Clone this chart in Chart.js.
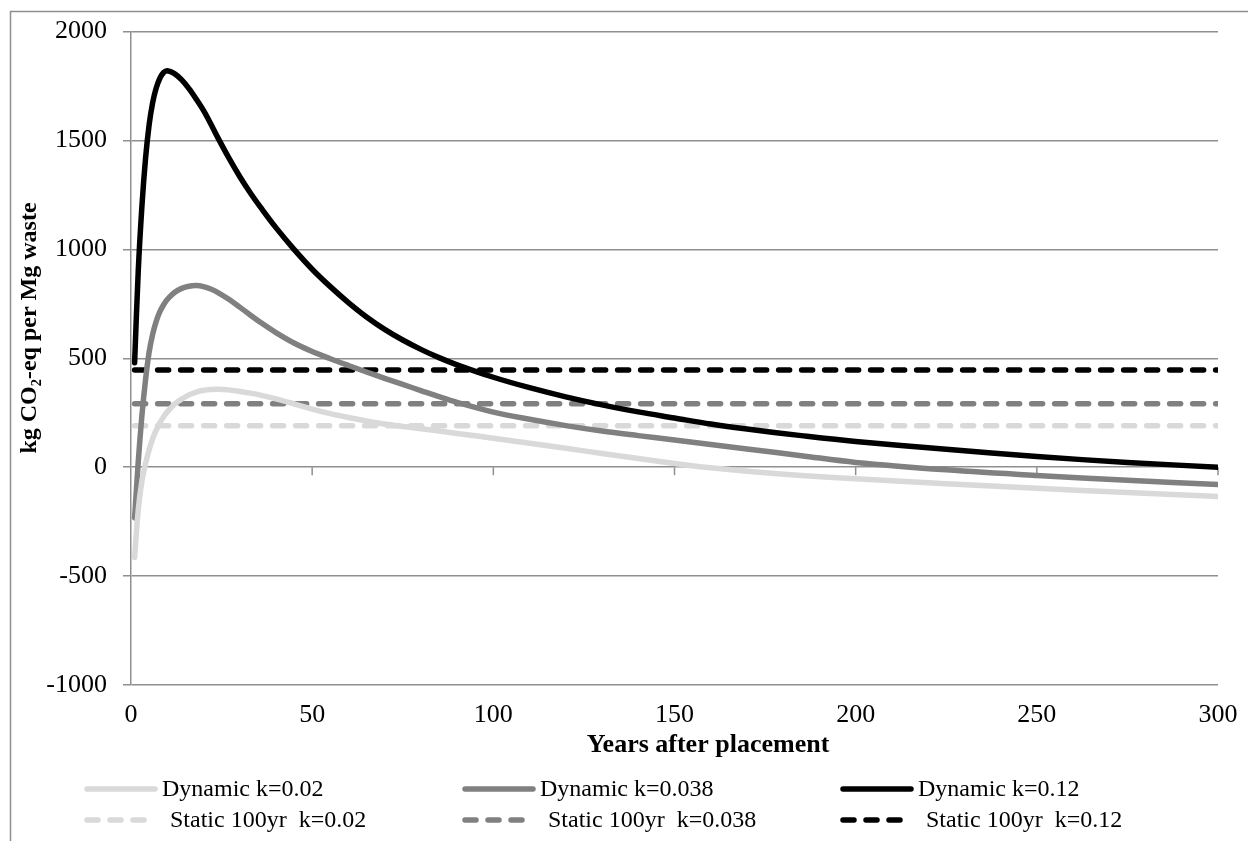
<!DOCTYPE html>
<html>
<head>
<meta charset="utf-8">
<script src="https://cdn.jsdelivr.net/npm/chart.js@4.4.1/dist/chart.umd.min.js"></script>
<style>
html, body { margin: 0; padding: 0; background: #fff; }
#wrap { width: 1248px; height: 841px; position: relative; }
</style>
</head>
<body>
<div id="wrap"><canvas id="chart"></canvas></div>
<script>
// values
const years = [1, 2, 3, 4, 5, 6, 7, 8, 9, 10, 12, 14, 16, 18, 20, 22, 24, 27, 30, 33, 36, 40, 45, 50, 55, 60, 65, 70, 75, 80, 85, 90, 100, 110, 120, 130, 140, 150, 160, 170, 185, 200, 225, 250, 275, 300];
const dynamicK002 = [-415, -195, -65, 15, 80, 132, 172, 205, 232, 254, 289, 313, 332, 345, 353, 357, 358, 355, 348, 340, 330, 314, 291, 267, 246, 228, 212, 198, 187, 177, 166, 155, 133, 110, 87, 63, 40, 17, -3, -19, -38, -53, -76, -97, -116, -134];
const dynamicK0038 = [-233, 25, 235, 400, 528, 612, 672, 715, 746, 770, 802, 821, 831, 834, 829, 818, 802, 771, 735, 698, 662, 618, 570, 531, 498, 467, 437, 408, 380, 352, 324, 298, 253, 220, 191, 166, 145, 125, 104, 84, 53, 22, -12, -38, -60, -80];
const dynamicK012 = [480, 900, 1195, 1415, 1572, 1676, 1743, 1787, 1812, 1820, 1807, 1778, 1738, 1690, 1638, 1577, 1512, 1420, 1335, 1258, 1188, 1100, 1000, 909, 829, 756, 690, 633, 584, 541, 503, 470, 413, 365, 323, 286, 254, 226, 198, 175, 145, 118, 82, 49, 22, 0];
const staticYears = [1, 300];
const staticValues = [190, 291, 446]; // k=0.02, k=0.038, k=0.12
const dynamicLabels = ['Dynamic k=0.02', 'Dynamic k=0.038', 'Dynamic k=0.12'];
const staticLabels = ['Static 100yr  k=0.02', 'Static 100yr  k=0.038', 'Static 100yr  k=0.12'];
const xTicks = [0, 50, 100, 150, 200, 250, 300];
const yTicks = [-1000, -500, 0, 500, 1000, 1500, 2000];
const xTitle = 'Years after placement';
const yTitle = 'kg CO₂-eq per Mg waste';

const shades = ['#d9d9d9', '#808080', '#000000'];
const gridColor = '#8f8f8f';
const serif = '"Liberation Serif", "DejaVu Serif", serif';

const toPoints = vals => years.map((y, i) => ({ x: y, y: vals[i] }));

const datasets = [];
[dynamicK002, dynamicK0038, dynamicK012].forEach((vals, i) => {
    datasets.push({
        label: dynamicLabels[i],
        data: toPoints(vals),
        borderColor: shades[i],
        borderWidth: 5.5,
        pointRadius: 0,
        tension: 0.35,
        borderCapStyle: 'round',
        order: 0
    });
});
staticValues.forEach((v, i) => {
    datasets.push({
        label: staticLabels[i],
        data: staticYears.map(y => ({ x: y, y: v })),
        borderColor: shades[i],
        borderWidth: 5.5,
        borderDash: [11, 12],
        borderCapStyle: 'round',
        pointRadius: 0,
        order: 1
    });
});

// outer chart frame (cut off at right and bottom)
const framePlugin = {
    id: 'frame',
    beforeDraw(chart) {
        const ctx = chart.ctx;
        ctx.save();
        ctx.strokeStyle = gridColor;
        ctx.lineWidth = 1.5;
        ctx.beginPath();
        ctx.moveTo(10.5, chart.height);
        ctx.lineTo(10.5, 11.5);
        ctx.lineTo(chart.width, 11.5);
        ctx.stroke();
        ctx.restore();
    }
};

// tick marks hanging below the zero line
const zeroTicksPlugin = {
    id: 'zeroTicks',
    beforeDatasetsDraw(chart) {
        const { ctx, scales: { x, y } } = chart;
        const y0 = y.getPixelForValue(0);
        ctx.save();
        ctx.strokeStyle = gridColor;
        ctx.lineWidth = 1.5;
        xTicks.forEach(v => {
            if (v === 0) return;
            const px = x.getPixelForValue(v);
            ctx.beginPath();
            ctx.moveTo(px, y0);
            ctx.lineTo(px, y0 + 8);
            ctx.stroke();
        });
        ctx.restore();
    }
};

// axis titles, placed where the original puts them
const titlesPlugin = {
    id: 'axisTitles',
    afterDraw(chart) {
        const ctx = chart.ctx;
        ctx.save();
        ctx.fillStyle = '#000';
        ctx.textAlign = 'center';
        ctx.textBaseline = 'middle';
        ctx.font = 'bold 26px ' + serif;
        ctx.fillText(xTitle, 708, 745);
        ctx.translate(30, 328);
        ctx.rotate(-Math.PI / 2);
        ctx.font = 'bold 24px ' + serif;
        ctx.fillText(yTitle, 0, 0);
        ctx.restore();
    }
};

// legend in a 3 x 2 grid
const gridLegendPlugin = {
    id: 'gridLegend',
    afterDraw(chart) {
        const ctx = chart.ctx;
        const colX = [84, 462, 840];
        const rowY = [789, 820];
        ctx.save();
        ctx.font = '24px ' + serif;
        ctx.fillStyle = '#000';
        ctx.textBaseline = 'middle';
        chart.data.datasets.forEach((ds, i) => {
            const row = Math.floor(i / 3);
            const cx = colX[i % 3];
            const cy = rowY[row];
            ctx.strokeStyle = ds.borderColor;
            ctx.lineWidth = 5.5;
            ctx.lineCap = 'round';
            ctx.setLineDash(ds.borderDash || []);
            ctx.beginPath();
            ctx.moveTo(cx + 3, cy);
            ctx.lineTo(cx + 71, cy);
            ctx.stroke();
            ctx.setLineDash([]);
            ctx.fillText(ds.label, cx + 78 + row * 8, cy + 1);
        });
        ctx.restore();
    }
};

new Chart(document.getElementById('chart'), {
    type: 'line',
    data: { datasets },
    options: {
        responsive: true,
        maintainAspectRatio: false,
        animation: false,
        layout: { padding: { top: 27, left: 10, right: 30, bottom: 79 } },
        scales: {
            x: {
                type: 'linear',
                min: 0,
                max: 300,
                afterBuildTicks: s => { s.ticks = xTicks.map(v => ({ value: v })); },
                afterFit: s => { s.height = 77; },
                ticks: { color: '#000', font: { family: serif, size: 26 }, padding: 7, maxRotation: 0, callback: v => String(v) },
                grid: { display: false },
                border: { display: false }
            },
            y: {
                min: -1000,
                max: 2000,
                afterBuildTicks: s => { s.ticks = yTicks.map(v => ({ value: v })); },
                afterFit: s => { s.width = 121; },
                ticks: { color: '#000', font: { family: serif, size: 26 }, padding: 16, callback: v => String(v) },
                grid: { color: gridColor, lineWidth: 1.5, tickLength: 8 },
                border: { color: gridColor, width: 1.5 }
            }
        },
        plugins: {
            legend: { display: false },
            tooltip: { enabled: false }
        }
    },
    plugins: [framePlugin, zeroTicksPlugin, titlesPlugin, gridLegendPlugin]
});
</script>
</body>
</html>
